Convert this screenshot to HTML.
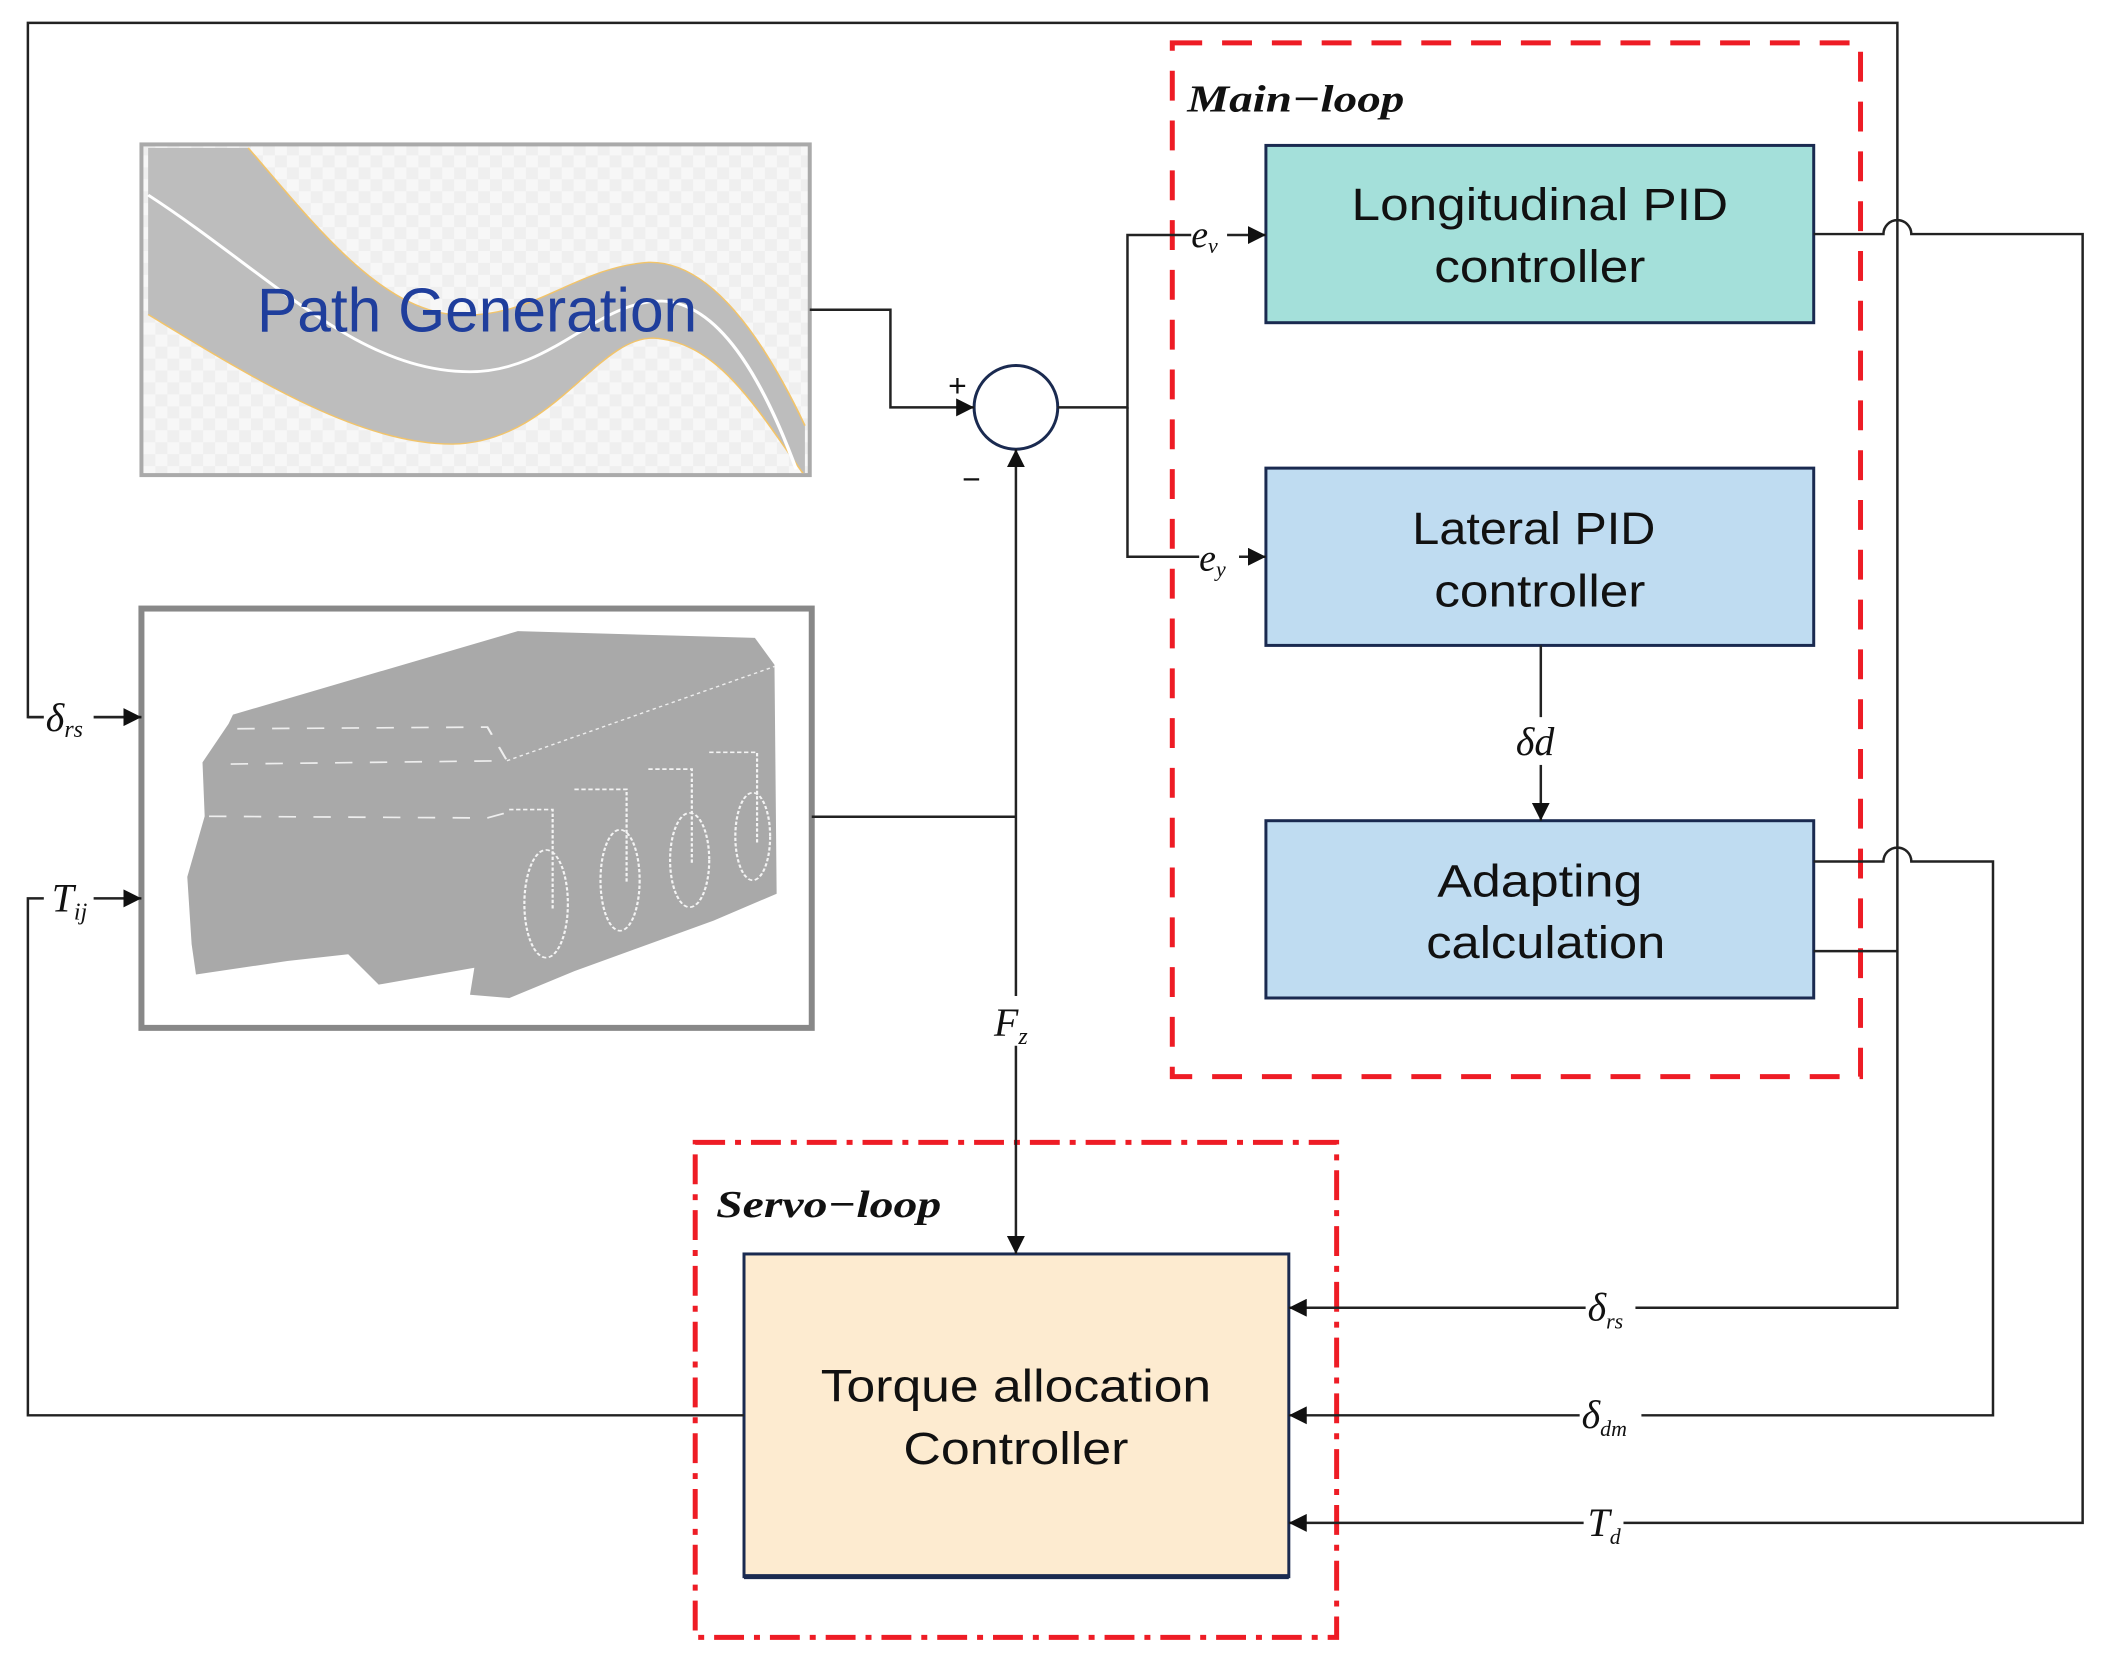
<!DOCTYPE html>
<html><head><meta charset="utf-8"><style>
html,body{margin:0;padding:0;background:#fff}
svg{display:block}
.t{font-family:"Liberation Sans",sans-serif;fill:#111}
.m{font-family:"Liberation Serif",serif;font-style:italic;fill:#111}
</style></head><body>
<svg width="2108" height="1668" viewBox="0 0 2108 1668" xmlns="http://www.w3.org/2000/svg">
<defs>
<marker id="b" viewBox="0 0 10 10" refX="10" refY="5" markerWidth="18" markerHeight="18" markerUnits="userSpaceOnUse" orient="auto"><path d="M0,0L10,5L0,10z" fill="#111"/></marker>
<pattern id="ck" width="24" height="24" patternUnits="userSpaceOnUse"><rect width="24" height="24" fill="#f7f7f7"/><rect width="12" height="12" fill="#efefef"/><rect x="12" y="12" width="12" height="12" fill="#efefef"/></pattern>
<clipPath id="pc"><rect x="144" y="147" width="667" height="328"/></clipPath>
</defs>
<g transform="scale(0.996)">
<!-- Path generation -->
<rect x="142" y="145" width="671" height="332" fill="url(#ck)" stroke="#aaa" stroke-width="4"/>
<g clip-path="url(#pc)">
<g transform="translate(140,140) scale(0.4367,0.338)">
<path d="M20,25 L250,25 C400,250 550,500 720,520 C900,540 1000,380 1170,365 C1300,360 1420,550 1530,850 L1530,1000 C1420,800 1330,600 1180,590 C1050,590 950,900 720,905 C500,905 250,700 20,520 Z" fill="#bdbdbd"/>
<path d="M250,25 C400,250 550,500 720,520 C900,540 1000,380 1170,365 C1300,360 1420,550 1530,850" fill="none" stroke="#f2c46a" stroke-width="4"/>
<path d="M20,520 C250,700 500,905 720,905 C950,900 1050,590 1180,590 C1330,600 1420,800 1530,1000" fill="none" stroke="#f2c46a" stroke-width="4"/>
<path d="M20,165 C300,400 500,690 760,690 C950,690 1050,480 1200,480 C1330,485 1430,700 1510,980" fill="none" stroke="#fff" stroke-width="8"/>
</g>
</g>
<text x="258" y="333" class="t" font-size="62" style="fill:#1f3e9c" textLength="442" lengthAdjust="spacingAndGlyphs">Path Generation</text>

<!-- Vehicle -->
<rect x="142" y="611" width="673" height="421" fill="#fff" stroke="#888" stroke-width="6"/>
<g transform="translate(140,610) scale(0.4367,0.338)">
<path d="M215,318 L870,70 L1415,90 L1460,170 L1465,850 L1320,930 L1000,1080 L850,1160 L760,1150 L770,1070 L550,1120 L480,1030 L340,1050 L130,1090 L120,1000 L110,800 L150,620 L145,460 L205,345 Z" fill="#a9a9a9"/>
<path d="M845,455 L1460,175" stroke="#eee" stroke-width="4" stroke-dasharray="8 8" fill="none"/>
<path d="M225,360 L800,355 L845,455 L200,465" stroke="#eee" stroke-width="5" stroke-dasharray="40 40" fill="none"/>
<path d="M160,620 L800,625 L870,600" stroke="#eee" stroke-width="5" stroke-dasharray="40 40" fill="none"/>
<g fill="none" stroke="#f4f4f4" stroke-width="5" stroke-dasharray="10 6">
<ellipse cx="935" cy="880" rx="50" ry="160"/>
<ellipse cx="1105" cy="810" rx="45" ry="150"/>
<ellipse cx="1265" cy="750" rx="45" ry="140"/>
<ellipse cx="1410" cy="680" rx="40" ry="130"/>
<path d="M850,600 L950,600 L950,900 M1000,540 L1120,540 L1120,820 M1170,480 L1270,480 L1270,760 M1310,430 L1420,430 L1420,700"/>
</g>
</g>

<!-- Main loop -->
<rect x="1177" y="43" width="691" height="1038" fill="none" stroke="#ee1c25" stroke-width="5" stroke-dasharray="30 20"/>
<text x="1192" y="112" class="m" font-size="38" font-weight="bold" textLength="218" lengthAdjust="spacingAndGlyphs">Main−loop</text>

<rect x="1271" y="146" width="550" height="178" fill="#a4e0da" stroke="#1a2a50" stroke-width="3"/>
<text x="1546" y="221" class="t" font-size="46" text-anchor="middle" textLength="378" lengthAdjust="spacingAndGlyphs">Longitudinal PID</text>
<text x="1546" y="283" class="t" font-size="46" text-anchor="middle" textLength="212" lengthAdjust="spacingAndGlyphs">controller</text>

<rect x="1271" y="470" width="550" height="178" fill="#bfdcf1" stroke="#1a2a50" stroke-width="3"/>
<text x="1540" y="546" class="t" font-size="46" text-anchor="middle" textLength="244" lengthAdjust="spacingAndGlyphs">Lateral PID</text>
<text x="1546" y="609" class="t" font-size="46" text-anchor="middle" textLength="212" lengthAdjust="spacingAndGlyphs">controller</text>

<rect x="1271" y="824" width="550" height="178" fill="#bfdcf1" stroke="#1a2a50" stroke-width="3"/>
<text x="1546" y="900" class="t" font-size="46" text-anchor="middle" textLength="206" lengthAdjust="spacingAndGlyphs">Adapting</text>
<text x="1552" y="962" class="t" font-size="46" text-anchor="middle" textLength="240" lengthAdjust="spacingAndGlyphs">calculation</text>

<!-- Servo loop -->
<rect x="698" y="1147" width="644" height="497" fill="none" stroke="#ee1c25" stroke-width="5" stroke-dasharray="30 10 6 10"/>
<text x="719" y="1222" class="m" font-size="38" font-weight="bold" textLength="226" lengthAdjust="spacingAndGlyphs">Servo−loop</text>
<rect x="747" y="1259" width="547" height="324" fill="#fdebd0" stroke="#1a2a50" stroke-width="3"/>
<line x1="747" y1="1583" x2="1294" y2="1583" stroke="#1a2a50" stroke-width="5"/>
<text x="1020" y="1407" class="t" font-size="46" text-anchor="middle" textLength="392" lengthAdjust="spacingAndGlyphs">Torque allocation</text>
<text x="1020" y="1470" class="t" font-size="46" text-anchor="middle" textLength="226" lengthAdjust="spacingAndGlyphs">Controller</text>

<!-- Sum -->
<circle cx="1020" cy="409" r="42" fill="#fff" stroke="#1a2a50" stroke-width="3"/>
<text x="952" y="398" class="t" font-size="32">+</text>
<text x="966" y="492" class="t" font-size="32">−</text>

<g fill="none" stroke="#222" stroke-width="2.5">
<path d="M813,311 H894 V409 H978" marker-end="url(#b)"/>
<path d="M1062,409 H1132 V236 H1271" marker-end="url(#b)"/>
<path d="M1132,409 V559 H1271" marker-end="url(#b)"/>
<path d="M815,820 H1020"/>
<path d="M1020,1000 V451" marker-end="url(#b)"/>
<path d="M1020,1050 V1259" marker-end="url(#b)"/>
<path d="M1547,648 V720"/>
<path d="M1547,768 V824" marker-end="url(#b)"/>
<path d="M142,720 H28 V23 H1905 V1313 H1294" marker-end="url(#b)"/>
<path d="M28,720 H142" marker-end="url(#b)"/>
<path d="M747,1421 H28 V902 H142" marker-end="url(#b)"/>
<path d="M1821,235 H1891 a14,14 0 0 1 28,0 H2091 V1529 H1294" marker-end="url(#b)"/>
<path d="M1821,865 H1891 a14,14 0 0 1 28,0 H2001 V1421 H1294" marker-end="url(#b)"/>
<path d="M1821,955 H1905"/>
</g>

<rect x="44" y="700" width="50" height="44" fill="#fff"/>
<text x="46" y="734" class="m" font-size="40">δ<tspan font-size="24" dy="6">rs</tspan></text>
<rect x="44" y="880" width="50" height="44" fill="#fff"/>
<text x="52" y="915" class="m" font-size="40">T<tspan font-size="24" dy="8">ij</tspan></text>
<rect x="1196" y="215" width="36" height="44" fill="#fff"/>
<text x="1196" y="248" class="m" font-size="38">e<tspan font-size="22" dy="6">v</tspan></text>
<rect x="1204" y="540" width="40" height="44" fill="#fff"/>
<text x="1204" y="573" class="m" font-size="38">e<tspan font-size="22" dy="6">y</tspan></text>
<text x="1522" y="758" class="m" font-size="40">δd</text>
<text x="998" y="1040" class="m" font-size="40">F<tspan font-size="24" dy="8">z</tspan></text>
<rect x="1592" y="1290" width="50" height="48" fill="#fff"/>
<text x="1594" y="1326" class="m" font-size="40">δ<tspan font-size="22" dy="8">rs</tspan></text>
<rect x="1586" y="1398" width="62" height="48" fill="#fff"/>
<text x="1588" y="1434" class="m" font-size="40">δ<tspan font-size="22" dy="8">dm</tspan></text>
<rect x="1590" y="1506" width="40" height="48" fill="#fff"/>
<text x="1594" y="1542" class="m" font-size="40">T<tspan font-size="22" dy="8">d</tspan></text>
</g>
</svg>
</body></html>
